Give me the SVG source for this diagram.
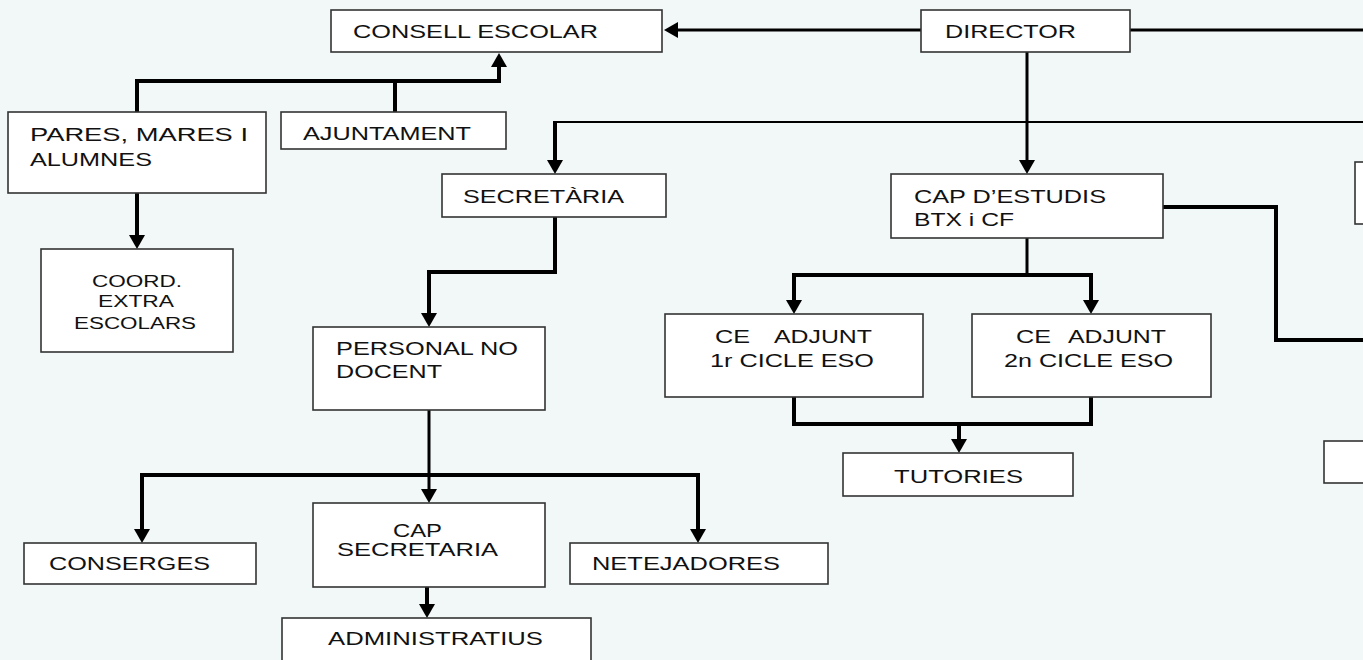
<svg xmlns="http://www.w3.org/2000/svg" width="1363" height="660" viewBox="0 0 1363 660">
<style>
.bg{fill:#f2f7f8}
.box{fill:#ffffff;stroke:#333333;stroke-width:1.6}
.t{font-family:"Liberation Sans",Arial,sans-serif;font-size:19px;fill:#111111}
.ts{font-family:"Liberation Sans",Arial,sans-serif;font-size:16px;fill:#111111}
.c{fill:none;stroke:#000000;stroke-linejoin:miter}
.w4{stroke-width:4}
.w3{stroke-width:3}
.w2{stroke-width:2}
</style>
<defs>
<marker id="ah" markerUnits="userSpaceOnUse" markerWidth="16" markerHeight="18" refX="0" refY="8" orient="auto" overflow="visible">
<path d="M0,0 L14,8 L0,16 Z" fill="#000000"/>
</marker>
</defs>
<rect class="bg" x="0" y="0" width="1363" height="660"/>

<g id="connectors">
<path class="c w3" d="M921,30 H678" marker-end="url(#ah)"/>
<path class="c w3" d="M1130,30 H1363"/>
<path class="c w4" d="M137,112 V81 H499 V67" marker-end="url(#ah)"/>
<path class="c w4" d="M395,112 V81"/>
<path class="c w4" d="M137,193 V235" marker-end="url(#ah)"/>
<path class="c w3" d="M1027,52 V160" marker-end="url(#ah)"/>
<path class="c w2" d="M1363,122 H555"/>
<path class="c w4" d="M555,121 V160" marker-end="url(#ah)"/>
<path class="c w4" d="M555,217 V272 H429 V313" marker-end="url(#ah)"/>
<path class="c w3" d="M429,410 V489" marker-end="url(#ah)"/>
<path class="c w4" d="M142,529 V475 H698 V529"/>
<path class="c w4" d="M142,520 V529" marker-end="url(#ah)"/>
<path class="c w4" d="M698,520 V529" marker-end="url(#ah)"/>
<path class="c w4" d="M427,587 V604" marker-end="url(#ah)"/>
<path class="c w4" d="M1163,207 H1276 V340 H1363"/>
<path class="c w3" d="M1027,238 V275"/>
<path class="c w4" d="M794,300 V275 H1091 V300"/>
<path class="c w4" d="M794,290 V300" marker-end="url(#ah)"/>
<path class="c w4" d="M1091,290 V300" marker-end="url(#ah)"/>
<path class="c w4" d="M794,397 V424 H1091 V397"/>
<path class="c w4" d="M959,424 V439" marker-end="url(#ah)"/>
</g>

<g id="consell-escolar">
<rect class="box" x="331" y="10" width="331" height="42"/>
<text class="t" x="353" y="38" textLength="245" lengthAdjust="spacingAndGlyphs">CONSELL ESCOLAR</text>
</g>
<g id="director">
<rect class="box" x="921" y="10" width="209" height="42"/>
<text class="t" x="945" y="38" textLength="131" lengthAdjust="spacingAndGlyphs">DIRECTOR</text>
</g>
<g id="pares">
<rect class="box" x="8" y="112" width="258" height="81"/>
<text class="t" x="30" y="141" textLength="218" lengthAdjust="spacingAndGlyphs">PARES, MARES I</text>
<text class="t" x="30" y="166" textLength="122" lengthAdjust="spacingAndGlyphs">ALUMNES</text>
</g>
<g id="ajuntament">
<rect class="box" x="281" y="112" width="225" height="37"/>
<text class="t" x="303" y="140" textLength="168" lengthAdjust="spacingAndGlyphs">AJUNTAMENT</text>
</g>
<g id="secretaria">
<rect class="box" x="442" y="174" width="224" height="43"/>
<text class="t" x="463" y="203" textLength="161" lengthAdjust="spacingAndGlyphs">SECRETÀRIA</text>
</g>
<g id="cap-estudis">
<rect class="box" x="891" y="174" width="272" height="64"/>
<text class="t" x="914" y="203" textLength="192" lengthAdjust="spacingAndGlyphs">CAP D’ESTUDIS</text>
<text class="t" x="914" y="226" textLength="100" lengthAdjust="spacingAndGlyphs">BTX i CF</text>
</g>
<g id="coord-extraescolars">
<rect class="box" x="41" y="249" width="192" height="103"/>
<text class="ts" x="92" y="287" textLength="90" lengthAdjust="spacingAndGlyphs">COORD.</text>
<text class="ts" x="98" y="307" textLength="76" lengthAdjust="spacingAndGlyphs">EXTRA</text>
<text class="ts" x="74" y="329" textLength="122" lengthAdjust="spacingAndGlyphs">ESCOLARS</text>
</g>
<g id="personal-no-docent">
<rect class="box" x="313" y="327" width="232" height="83"/>
<text class="t" x="336" y="355" textLength="182" lengthAdjust="spacingAndGlyphs">PERSONAL NO</text>
<text class="t" x="336" y="378" textLength="106" lengthAdjust="spacingAndGlyphs">DOCENT</text>
</g>
<g id="ce-adjunt-1r">
<rect class="box" x="665" y="314" width="258" height="83"/>
<text class="t" y="343"><tspan x="715" textLength="35" lengthAdjust="spacingAndGlyphs">CE</tspan> <tspan x="774" textLength="98" lengthAdjust="spacingAndGlyphs">ADJUNT</tspan></text>
<text class="t" x="710" y="367" textLength="164" lengthAdjust="spacingAndGlyphs">1r CICLE ESO</text>
</g>
<g id="ce-adjunt-2n">
<rect class="box" x="972" y="314" width="239" height="83"/>
<text class="t" y="343"><tspan x="1016" textLength="35" lengthAdjust="spacingAndGlyphs">CE</tspan> <tspan x="1068" textLength="98" lengthAdjust="spacingAndGlyphs">ADJUNT</tspan></text>
<text class="t" x="1004" y="367" textLength="169" lengthAdjust="spacingAndGlyphs">2n CICLE ESO</text>
</g>
<g id="tutories">
<rect class="box" x="843" y="453" width="230" height="43"/>
<text class="t" x="894" y="483" textLength="129" lengthAdjust="spacingAndGlyphs">TUTORIES</text>
</g>
<g id="conserges">
<rect class="box" x="24" y="543" width="232" height="41"/>
<text class="t" x="49" y="570" textLength="161" lengthAdjust="spacingAndGlyphs">CONSERGES</text>
</g>
<g id="cap-secretaria">
<rect class="box" x="313" y="503" width="232" height="84"/>
<text class="t" x="393" y="537" textLength="49" lengthAdjust="spacingAndGlyphs">CAP</text>
<text class="t" x="337" y="556" textLength="161" lengthAdjust="spacingAndGlyphs">SECRETARIA</text>
</g>
<g id="netejadores">
<rect class="box" x="570" y="543" width="258" height="41"/>
<text class="t" x="592" y="570" textLength="188" lengthAdjust="spacingAndGlyphs">NETEJADORES</text>
</g>
<g id="administratius">
<rect class="box" x="282" y="618" width="309" height="50"/>
<text class="t" x="328" y="645" textLength="215" lengthAdjust="spacingAndGlyphs">ADMINISTRATIUS</text>
</g>
<g id="right-box-1">
<rect class="box" x="1355" y="162" width="30" height="62"/>
</g>
<g id="right-box-2">
<rect class="box" x="1324" y="441" width="60" height="42"/>
</g>
</svg>
